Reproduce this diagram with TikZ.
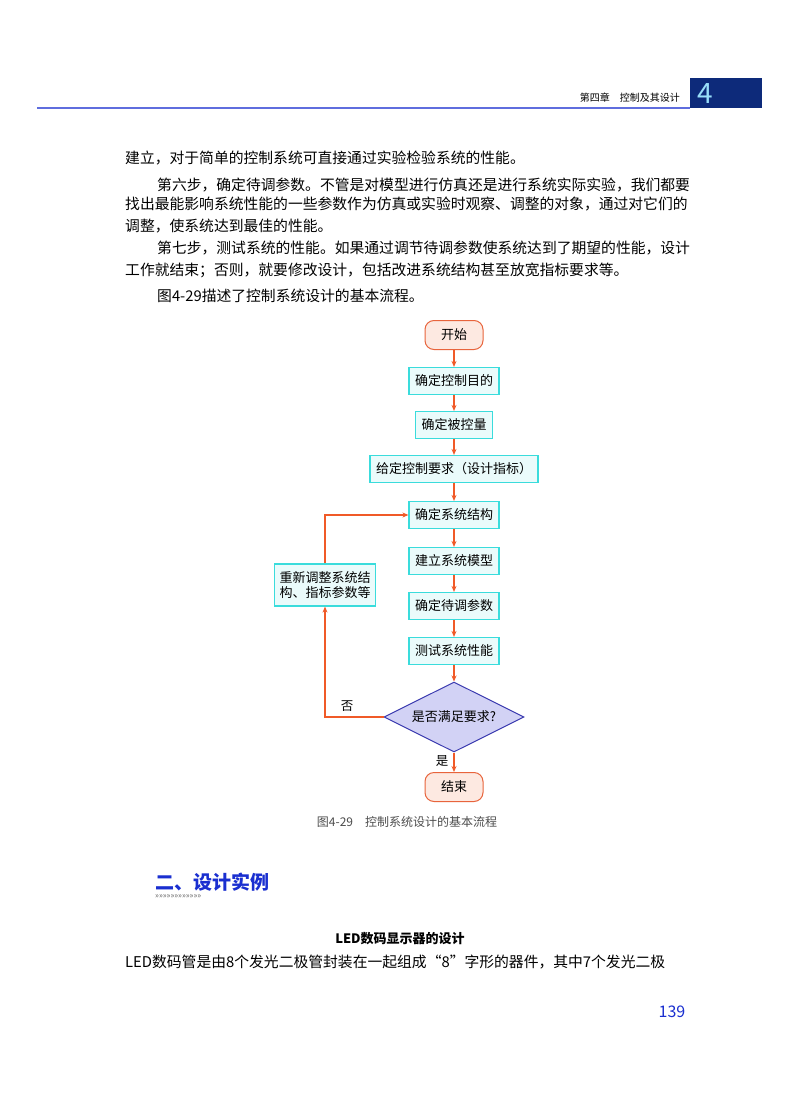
\documentclass[tikz,border=0pt]{standalone}
\usepackage{fontspec}
\setmainfont{Noto Sans CJK SC}
\usetikzlibrary{shapes.geometric,arrows.meta}
\definecolor{boxfill}{HTML}{EAFBFB}
\definecolor{boxline}{HTML}{3ADCDC}
\definecolor{termfill}{HTML}{FDE9E1}
\definecolor{termline}{HTML}{E8643C}
\definecolor{arr}{HTML}{F05A28}
\definecolor{dfill}{HTML}{D2D2F5}
\definecolor{dline}{HTML}{3B3BB0}
\definecolor{hblue}{HTML}{1A2FD0}
\definecolor{navy}{HTML}{0D2A7A}
\tikzset{
  body/.style={anchor=west,inner sep=0pt,font=\fontsize{14.8}{16}\selectfont},
  procbox/.style={draw=boxline,fill=boxfill,line width=1.2pt,minimum height=27pt,inner xsep=6pt,font=\fontsize{13}{15}\selectfont},
  term/.style={draw=termline,fill=termfill,line width=1pt,rounded corners=9pt,minimum width=58pt,minimum height=29pt,font=\fontsize{13}{15}\selectfont},
  dec/.style={diamond,aspect=2,draw=dline,fill=dfill,line width=1pt,minimum width=140pt,minimum height=70pt,inner sep=0pt,font=\fontsize{13}{15}\selectfont},
  flow/.style={draw=arr,line width=1.1pt,-{Stealth[length=6pt,width=5pt]}},
  lab/.style={font=\fontsize{12.5}{14}\selectfont,inner sep=0pt}
}
\begin{document}
\begin{tikzpicture}[x=1pt,y=-1pt]
\useasboundingbox[fill=white] (0,0) rectangle (800,1094);
% header
\draw[draw=hblue!70,line width=1.2pt] (37,108) -- (690,108);
\fill[navy] (690,78) rectangle (762,108);
\node[inner sep=0pt,text=cyan!40,font=\fontsize{28}{28}\selectfont] (num) at (705,94) {4};
\node[anchor=east,inner sep=0pt,font=\fontsize{10}{10}\selectfont] (hdr) at (680,98) {第四章\quad 控制及其设计};
% body
\node[body] (l1) at (125,158) {建立，对于简单的控制系统可直接通过实验检验系统的性能。};
\node[body] (l2) at (157,185) {第六步，确定待调参数。不管是对模型进行仿真还是进行系统实际实验，我们都要};
\node[body] (l3) at (125,204) {找出最能影响系统性能的一些参数作为仿真或实验时观察、调整的对象，通过对它们的};
\node[body] (l4) at (125,226) {调整，使系统达到最佳的性能。};
\node[body] (l5) at (157,248) {第七步，测试系统的性能。如果通过调节待调参数使系统达到了期望的性能，设计};
\node[body] (l6) at (125,270) {工作就结束；否则，就要修改设计，包括改进系统结构甚至放宽指标要求等。};
\node[body] (l7) at (157,296) {图4-29描述了控制系统设计的基本流程。};
% flowchart
\node[term] (start) at (454,335) {开始};
\node[procbox] (b1) at (454,381) {确定控制目的};
\node[procbox] (b2) at (454,425) {确定被控量};
\node[procbox] (b3) at (454,469) {给定控制要求（设计指标）};
\node[procbox] (b4) at (454,515) {确定系统结构};
\node[procbox] (b5) at (454,561) {建立系统模型};
\node[procbox] (b6) at (454,606) {确定待调参数};
\node[procbox] (b7) at (454,651) {测试系统性能};
\node[dec] (d) at (454,717) {是否满足要求?};
\node[term] (end) at (454,787) {结束};
\node[procbox,align=left,minimum height=42pt,inner xsep=5pt] (fb) at (325,585) {重新调整系统结\\构、指标参数等};
\draw[flow] (start) -- (b1);
\draw[flow] (b1) -- (b2);
\draw[flow] (b2) -- (b3);
\draw[flow] (b3) -- (b4);
\draw[flow] (b4) -- (b5);
\draw[flow] (b5) -- (b6);
\draw[flow] (b6) -- (b7);
\draw[flow] (b7) -- (d);
\draw[flow] (d) -- (end);
\draw[flow] (d.west) -| (fb.south);
\draw[flow] (fb.north) |- (b4.west);
\node[lab] (no) at (347,706) {否};
\node[lab] (yes) at (442,761) {是};
\node[inner sep=0pt,text=black!70,font=\fontsize{12}{13}\selectfont] (cap) at (407,822) {图4-29\quad 控制系统设计的基本流程};
% section
\node[anchor=west,inner sep=0pt,text=hblue,font=\fontsize{19}{20}\selectfont\bfseries] (sec) at (155,882) {二、设计实例};
\node[anchor=west,inner sep=0pt,text=black!60,font=\fontsize{8}{8}\selectfont] (chev) at (155,897) {>>>>>>>>>>>>>>>>>>>>>>>>};
\node[inner sep=0pt,font=\fontsize{13}{14}\selectfont\bfseries] (sub) at (400,939) {LED数码显示器的设计};
\node[body] (l8) at (125,962) {LED数码管是由8个发光二极管封装在一起组成“8”字形的器件，其中7个发光二极};
\node[inner sep=0pt,text=hblue,font=\fontsize{16}{16}\selectfont] (pg) at (672,1012) {139};
\end{tikzpicture}
\end{document}
